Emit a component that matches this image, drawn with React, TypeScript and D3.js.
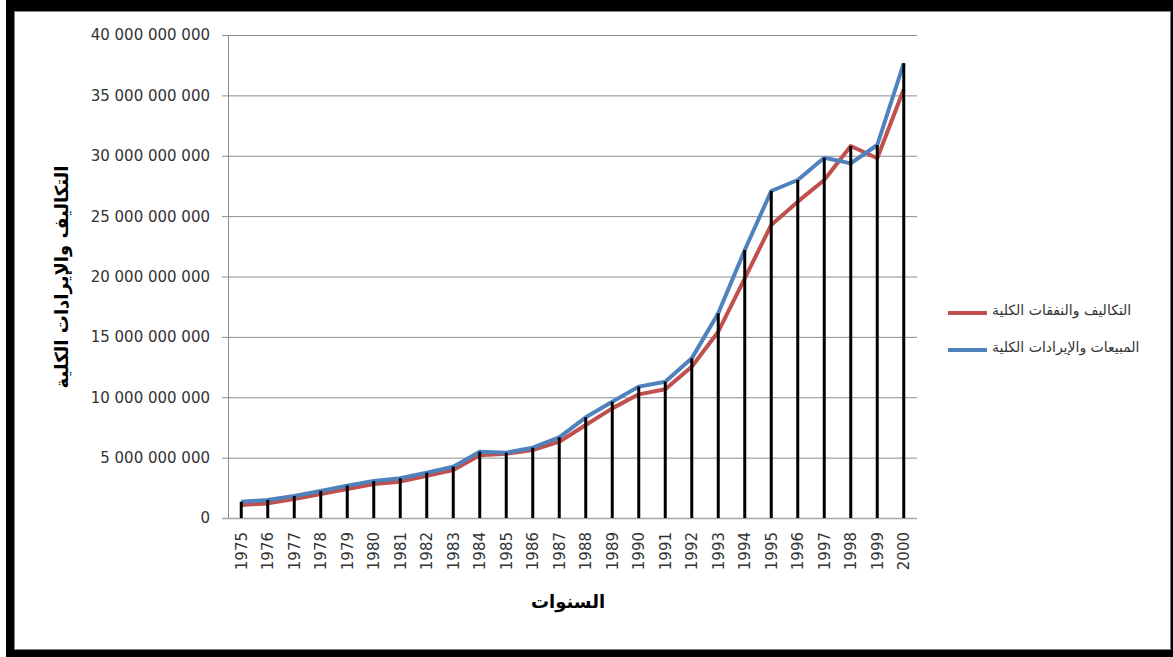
import React from "react";
import * as d3 from "d3";

const years = ["1975","1976","1977","1978","1979","1980","1981","1982","1983","1984","1985","1986","1987","1988","1989","1990","1991","1992","1993","1994","1995","1996","1997","1998","1999","2000"];
const costs = [1.08e9,1.21e9,1.57e9,1.99e9,2.40e9,2.82e9,3.01e9,3.50e9,3.98e9,5.19e9,5.33e9,5.63e9,6.32e9,7.70e9,9.08e9,10.24e9,10.66e9,12.53e9,15.43e9,19.85e9,24.27e9,26.20e9,27.99e9,30.81e9,29.79e9,35.50e9];
const revenues = [1.35e9,1.49e9,1.82e9,2.24e9,2.68e9,3.06e9,3.29e9,3.75e9,4.25e9,5.49e9,5.41e9,5.82e9,6.68e9,8.34e9,9.63e9,10.88e9,11.29e9,13.22e9,16.95e9,22.19e9,27.08e9,27.99e9,29.84e9,29.37e9,30.89e9,37.66e9];
const yTicks = [0,5e9,10e9,15e9,20e9,25e9,30e9,35e9,40e9];
const seriesNames = ["التكاليف والنفقات الكلية","المبيعات والإيرادات الكلية"];
const yTitle = "التكاليف والإيرادات الكلية";
const xTitle = "السنوات";

const W = 1173, H = 657;
const plot = { left: 228, right: 917, top: 35, bottom: 518 };
const RED = "#C0504D", BLUE = "#4F81BD";
const TXT = "#333333";

export default function App() {
  const x = d3.scaleBand<string>().domain(years).range([plot.left, plot.right]);
  const y = d3.scaleLinear().domain([0, 40e9]).range([plot.bottom, plot.top]);
  const cx = (yr: string) => (x(yr) as number) + x.bandwidth() / 2;
  const fmt = (v: number) => d3.format(",")(v).replace(/,/g, " ");
  const line = d3.line<number>().x((_, i) => cx(years[i])).y((v) => y(v));
  const numFont = "DejaVu Sans, sans-serif";

  return (
    <svg width={W} height={H} style={{ position: "absolute", left: 0, top: 0, background: "#fff" }}>
      {/* frame */}
      <rect x={6} y={0} width={W - 6} height={H} fill="#000" />
      <rect x={14} y={11} width={1157} height={639} fill="#808080" />
      <rect x={15} y={12} width={1155} height={637} fill="#fff" />

      {/* gridlines */}
      {yTicks.map((t) => (
        <line key={t} x1={plot.left - 6} x2={plot.right} y1={y(t) + 0.5} y2={y(t) + 0.5}
          stroke={t === 0 ? "#a6a6a6" : "#8c8c8c"} strokeWidth={t === 0 ? 1.5 : 1} />
      ))}
      <line x1={plot.left + 0.5} x2={plot.left + 0.5} y1={plot.top} y2={plot.bottom} stroke="#8c8c8c" />

      {/* y tick labels */}
      {yTicks.map((t) => (
        <text key={t} x={210} y={y(t)} dy="0.36em" textAnchor="end" fontFamily={numFont} fontSize={15} fill={TXT}>
          {fmt(t)}
        </text>
      ))}

      {/* x tick labels */}
      {years.map((yr) => (
        <text key={yr} transform={`translate(${cx(yr)},532) rotate(-90)`} textAnchor="end" dy="0.36em"
          fontFamily={numFont} fontSize={15} fill={TXT}>
          {yr}
        </text>
      ))}

      {/* series lines */}
      <path d={line(costs) || ""} fill="none" stroke={RED} strokeWidth={4} strokeLinejoin="round" />
      <path d={line(revenues) || ""} fill="none" stroke={BLUE} strokeWidth={4} strokeLinejoin="round" />

      {/* drop lines */}
      {years.map((yr, i) => (
        <line key={yr} x1={cx(yr)} x2={cx(yr)} y1={y(Math.max(costs[i], revenues[i]))} y2={plot.bottom}
          stroke="#000" strokeWidth={3} />
      ))}

      {/* axis titles */}
      <text transform={`translate(62,277) rotate(-90)`} textAnchor="middle" dy="0.35em"
        fontFamily="DejaVu Serif, DejaVu Sans, serif" fontWeight="bold" fontSize={18} fill="#000">
        {yTitle}
      </text>
      <text x={568} y={602} textAnchor="middle" dy="0.35em"
        fontFamily="DejaVu Serif, DejaVu Sans, serif" fontWeight="bold" fontSize={18} fill="#000">
        {xTitle}
      </text>

      {/* legend */}
      {[RED, BLUE].map((c, i) => (
        <g key={c} transform={`translate(0,${313 + i * 37})`}>
          <line x1={948} x2={987} y1={0} y2={0} stroke={c} strokeWidth={4} />
          <text x={992} y={-3} dy="0.35em" fontFamily="DejaVu Sans, sans-serif" fontSize={14} fill={TXT}>
            {seriesNames[i]}
          </text>
        </g>
      ))}
    </svg>
  );
}
